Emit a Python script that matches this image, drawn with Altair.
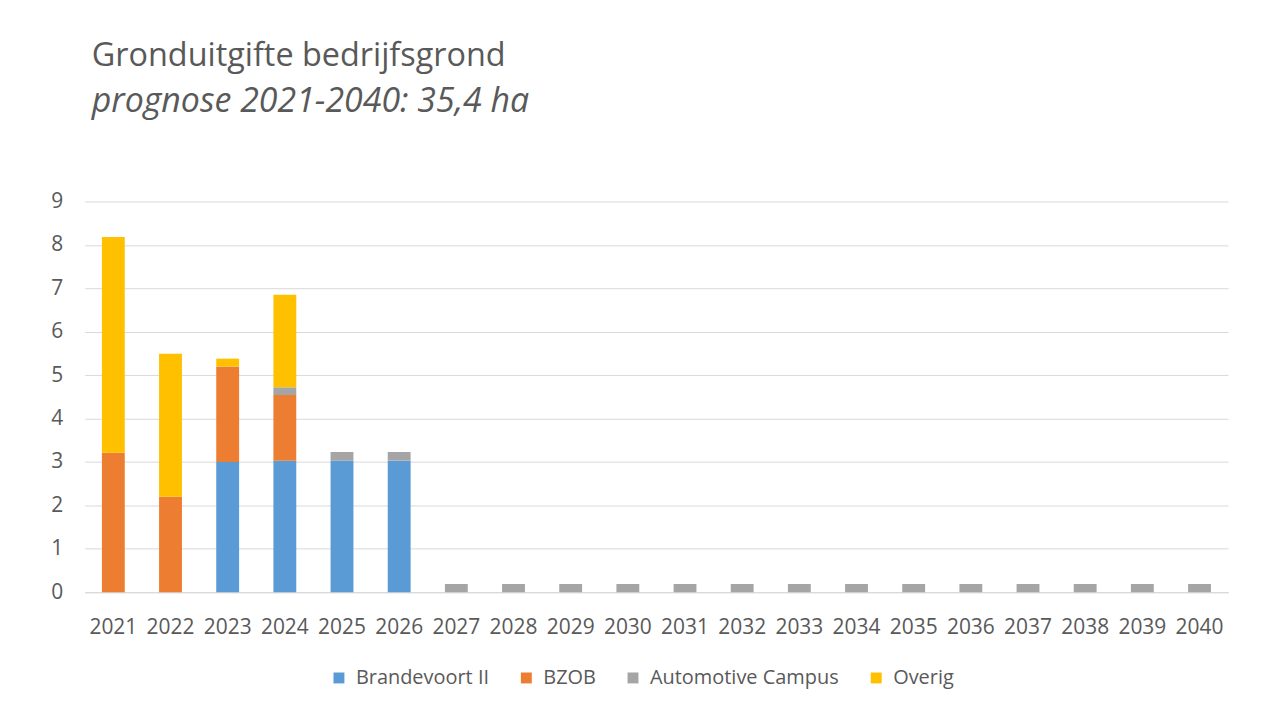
import altair as alt
import pandas as pd

years = [str(y) for y in range(2021, 2041)]
series = ["Brandevoort II", "BZOB", "Automotive Campus", "Overig"]
colors = ["#5B9BD5", "#ED7D31", "#A5A5A5", "#FFC000"]

brandevoort = [0, 0, 3.0, 3.03, 3.03, 3.03] + [0] * 14
bzob = [3.21, 2.2, 2.2, 1.51, 0, 0] + [0] * 14
automotive = [0, 0, 0, 0.18, 0.2, 0.2] + [0.19] * 14
overig = [4.97, 3.29, 0.18, 2.13, 0, 0] + [0] * 14

values = [brandevoort, bzob, automotive, overig]
rows = []
for si, (name, vals) in enumerate(zip(series, values)):
    for y, v in zip(years, vals):
        rows.append({"jaar": y, "serie": name, "waarde": v, "volgorde": si})
df = pd.DataFrame(rows)

FONT = "Open Sans"
TXT = "#595959"

chart = (
    alt.Chart(df)
    .mark_bar()
    .encode(
        x=alt.X("jaar:N", sort=years, title=None,
                scale=alt.Scale(paddingInner=0.6, paddingOuter=0.3),
                axis=alt.Axis(labelAngle=0, labelFontSize=21, labelColor=TXT,
                              labelFont=FONT, ticks=False, labelPadding=24,
                              domainColor="#D9D9D9", domainWidth=1)),
        y=alt.Y("waarde:Q", stack="zero", title=None,
                scale=alt.Scale(domain=[0, 9], nice=False),
                axis=alt.Axis(values=list(range(10)), labelFontSize=21,
                              labelColor=TXT, labelFont=FONT, ticks=False,
                              domain=False, labelPadding=22,
                              gridColor="#D9D9D9", gridWidth=1)),
        color=alt.Color("serie:N",
                        scale=alt.Scale(domain=series, range=colors),
                        legend=alt.Legend(title=None, orient="none",
                                          legendX=245, legendY=468,
                                          direction="horizontal",
                                          symbolType="square", symbolSize=120,
                                          symbolStrokeWidth=0,
                                          labelFontSize=20, labelColor=TXT,
                                          labelFont=FONT, columnPadding=27,
                                          labelLimit=400,
                                          labelOffset=7)),
        order=alt.Order("volgorde:Q", sort="ascending"),
    )
    .properties(
        width=1147,
        height=392,
        autosize=alt.AutoSizeParams(type="none"),
        padding={"left": 77, "top": 193, "right": 30, "bottom": 100},
        title=alt.Title(
            "Gronduitgifte bedrijfsgrond",
            subtitle="prognose 2021-2040: 35,4 ha",
            anchor="start",
            frame="group",
            dx=7,
            offset=72,
            font=FONT,
            fontSize=32.5,
            fontWeight="normal",
            color=TXT,
            subtitleFont=FONT,
            subtitleFontSize=34,
            subtitleFontStyle="italic",
            subtitleColor=TXT,
            subtitlePadding=12,
        ),
    )
    .configure(background="white")
    .configure_view(stroke=None)
)

chart.save("out.html", embed_options={"renderer": "svg", "actions": False})
